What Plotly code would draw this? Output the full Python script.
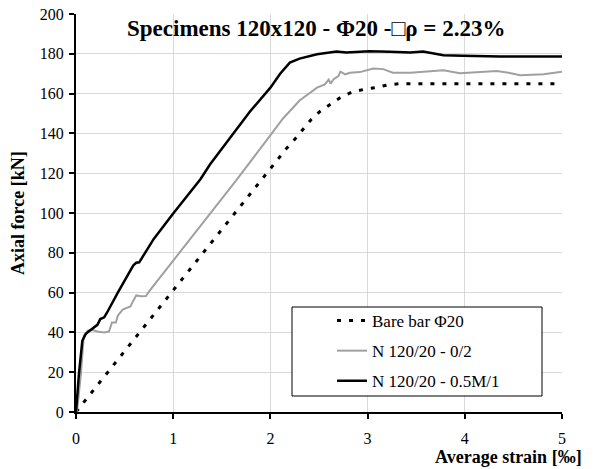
import plotly.graph_objects as go

# ---- data ----
bare_x = [0, 0.5, 1.0, 1.5, 2.0, 2.17, 2.25, 2.34, 2.42, 2.51, 2.61, 2.72, 2.84, 2.96, 3.08, 3.2, 3.33, 4.0, 4.5, 5.0]
bare_y = [0, 30.5, 61, 92, 122.5, 132.7, 137, 142.3, 147, 151, 154.5, 158, 160.8, 162.1, 163, 164.3, 165, 165, 165, 165]

n02_x = [0, 0.01, 0.05, 0.08, 0.12, 0.17, 0.22, 0.29, 0.34, 0.37, 0.41, 0.43, 0.48, 0.53, 0.56, 0.58,
         0.62, 0.67, 0.72, 0.75, 0.8, 1.0, 1.2, 1.41, 1.65, 1.89, 2.0, 2.13, 2.3, 2.48, 2.56, 2.6,
         2.62, 2.65, 2.7, 2.72, 2.77, 2.82, 2.92, 3.06, 3.16, 3.26, 3.44, 3.6, 3.78, 3.95, 4.15,
         4.33, 4.45, 4.57, 4.81, 5.0]
n02_y = [0, 0, 19, 38.4, 40.9, 41.2, 40.5, 40, 40.5, 45, 45, 48.4, 51.5, 52.7, 53, 55,
         58.6, 58.2, 58.3, 60.5, 63.6, 76, 88.5, 101.5, 116.5, 132, 139, 147.5, 156.5, 163, 164.6, 167,
         165, 167.2, 168.8, 171, 169.7, 170.5, 170.8, 172.6, 172.3, 170.5, 170.5, 171, 171.7, 170.2, 170.8,
         171.4, 170.5, 169.2, 169.7, 171]

n05_x = [0, 0.03, 0.065, 0.1, 0.13, 0.19, 0.22, 0.25, 0.29, 0.32, 0.43, 0.59, 0.62, 0.65, 0.8, 1.0,
         1.28, 1.38, 1.62, 1.79, 2.0, 2.1, 2.2, 2.3, 2.48, 2.6, 2.68, 2.78, 3.02, 3.23, 3.44, 3.57,
         3.7, 3.78, 3.98, 4.36, 5.0]
n05_y = [0, 19, 35.8, 39.2, 40.5, 42.5, 43.8, 46.7, 47.6, 50, 60, 73.7, 75, 75.2, 87, 99.8,
         117, 124.5, 140, 151, 163, 170, 175.6, 177.6, 179.8, 180.5, 181.2, 180.6, 181.3, 181, 180.6, 181.2,
         180.2, 179.3, 179, 178.6, 178.6]

series_names = ["Bare bar Φ20", "N 120/20 - 0/2", "N 120/20 - 0.5M/1"]
title_text = "<b>Specimens 120x120 - Φ20 -□ρ = 2.23%</b>"
x_title = "<b>Average strain [‰]</b>"
y_title = "<b>Axial force [kN]</b>"

FONT = "Liberation Serif, Times New Roman, serif"

fig = go.Figure()
fig.add_trace(go.Scatter(x=bare_x, y=bare_y, mode="lines", name=series_names[0], legendgroup="a",
                         line=dict(color="black", width=3, dash="4px,8px")))
fig.add_trace(go.Scatter(x=n02_x, y=n02_y, mode="lines", name=series_names[1], legendgroup="b",
                         line=dict(color="#a0a0a0", width=2)))
fig.add_trace(go.Scatter(x=n05_x, y=n05_y, mode="lines", name=series_names[2], legendgroup="c",
                         line=dict(color="black", width=2.5)))

L, R, T, B = 76, 33, 14, 57
W, H = 595, 469
pw, ph = W - L - R, H - T - B

def px(xp):
    return (xp - L) / pw

def py(yp):
    return (H - B - yp) / ph

axis_common = dict(showline=True, linewidth=2, linecolor="black", ticks="outside", ticklen=5,
                   tickwidth=1.5, tickcolor="black", showgrid=True, gridcolor="#d9d9d9", gridwidth=1,
                   zeroline=False, automargin=False,
                   tickfont=dict(family=FONT, size=16, color="black"))

fig.update_layout(
    width=W, height=H, margin=dict(l=L, r=R, t=T, b=B, autoexpand=False),
    paper_bgcolor="white", plot_bgcolor="white",
    font=dict(family=FONT, color="black"),
    xaxis=dict(range=[0, 5], dtick=1, ticklabelstandoff=6, **axis_common),
    yaxis=dict(range=[0, 200], dtick=20, ticklabelstandoff=2, **axis_common),
    showlegend=True,
    legend=dict(x=px(332), y=py(303), xanchor="left", yanchor="top", bgcolor="rgba(0,0,0,0)",
                borderwidth=0, font=dict(family=FONT, size=17, color="black"), tracegroupgap=5,
                itemwidth=30),
    shapes=[dict(type="rect", xref="paper", yref="paper", x0=px(292), x1=px(542), y0=py(396), y1=py(307),
                 line=dict(color="black", width=1), fillcolor="white", layer="above")],
    annotations=[
        dict(text=title_text, xref="paper", yref="paper", x=px(316), y=py(28), xanchor="center",
             yanchor="middle", showarrow=False, font=dict(family=FONT, size=23, color="black")),
        dict(text=x_title, xref="paper", yref="paper", x=px(584), y=py(457), xanchor="right",
             yanchor="middle", showarrow=False, font=dict(family=FONT, size=18, color="black")),
        dict(text=y_title, xref="paper", yref="paper", x=px(18), y=0.5, xanchor="center",
             yanchor="middle", textangle=-90, showarrow=False, font=dict(family=FONT, size=18, color="black")),
    ],
)

fig.write_html("out.html", config={"displayModeBar": False},
               post_script="document.body.style.margin='0';document.body.style.overflow='hidden';")
